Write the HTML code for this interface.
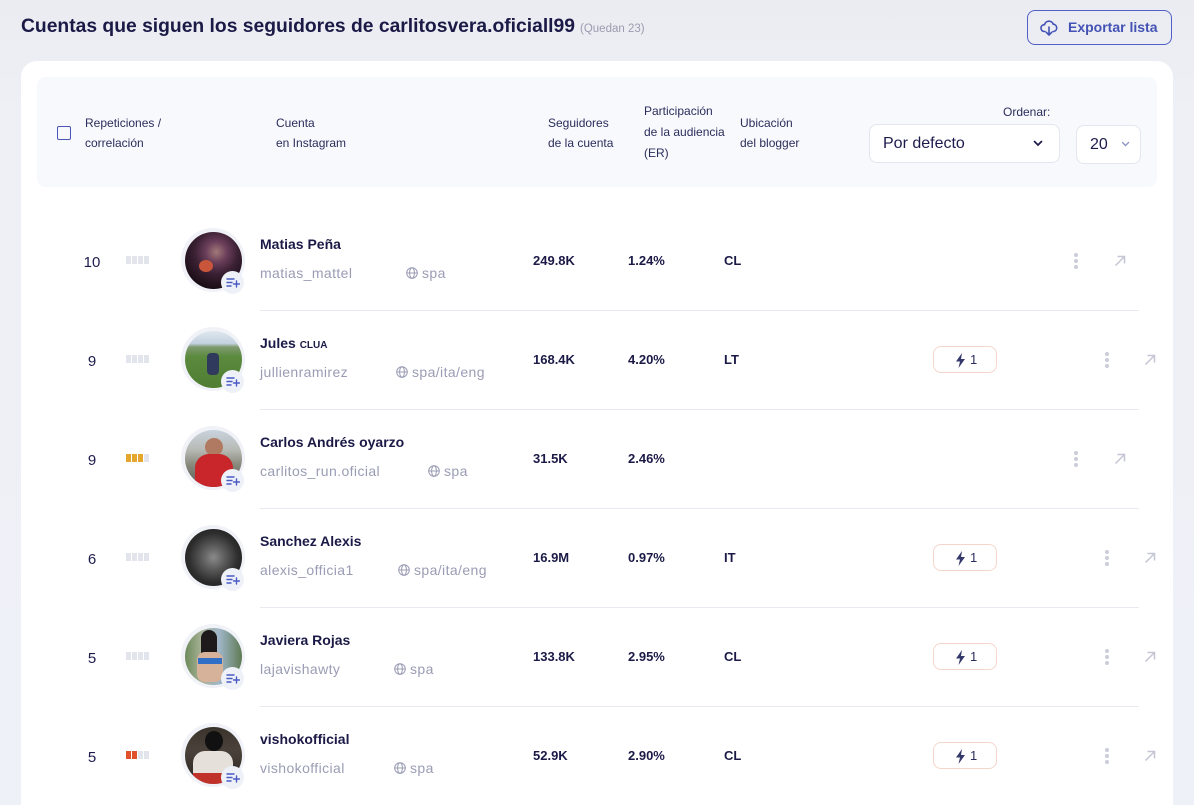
<!DOCTYPE html>
<html><head><meta charset="utf-8">
<style>
*{box-sizing:border-box;margin:0;padding:0}
html,body{width:1194px;height:805px;overflow:hidden}
body{background:linear-gradient(180deg,#eaecf1 0,#eef0f6 120px,#eef1f7 100%);font-family:"Liberation Sans",sans-serif;color:#1d1b4c;position:relative}
.abs{position:absolute}
.title{left:21px;top:15px;font-size:19.3px;font-weight:bold;color:#1b1a47;white-space:nowrap;line-height:24px}
.title small{font-size:11.5px;font-weight:normal;color:#9a9cb0;margin-left:5px}
.exp{left:1027px;top:10px;width:145px;height:35px;border:1.3px solid #5160c6;border-radius:8px;color:#4352b4;font-size:14px;font-weight:bold;line-height:32px;padding-left:40px}
.card{left:21px;top:61px;width:1152px;height:744px;background:#fff;border-radius:16px 16px 0 0}
.head{left:37px;top:77px;width:1120px;height:110px;background:#f7f9fc;border-radius:8px}
.hl{font-size:12px;color:#2b2d5c;line-height:20px;white-space:nowrap}
.cb{left:57px;top:126px;width:14px;height:14px;border:1.8px solid #4a55b8;border-radius:2px}
.sel{border:1px solid #e3e6ee;border-radius:8px;background:#fff}
.row{position:absolute;left:0;width:1194px;height:99px}
.num{position:absolute;left:76px;width:32px;text-align:center;top:43px;font-size:15px;line-height:18px;color:#1d1b4c}
.bars{position:absolute;left:126px;top:45px;height:8px;display:flex;gap:1px}
.bars i{display:block;width:5px;height:8px;background:#e3e5ec}
.halo{position:absolute;left:181px;top:17px;width:64px;height:64px;border-radius:50%;background:#f0f2f7}
.ph{position:absolute;left:184.5px;top:20.5px;width:57px;height:57px;border-radius:50%;overflow:hidden}
.add{position:absolute;left:221px;top:60px;width:23px;height:23px;border-radius:50%;background:#eef1f8}
.name{position:absolute;left:260px;top:24px;font-size:14px;font-weight:bold;line-height:18px;color:#1b1a47;white-space:nowrap}
.user{position:absolute;left:260px;top:53px;font-size:14px;line-height:18px;color:#9a9cb4;letter-spacing:.4px;white-space:nowrap}
.lang{position:absolute;top:53px;font-size:14px;line-height:18px;color:#9a9cb4;letter-spacing:.4px;white-space:nowrap;padding-left:16px}
.lang svg{position:absolute;left:0;top:3px}
.v{position:absolute;top:41px;font-size:13px;font-weight:bold;line-height:18px;color:#1b1a47}
.badge{position:absolute;left:933px;top:36px;width:64px;height:27px;border:1px solid #f5d6cc;border-radius:8px;font-size:13px;color:#2b2d5c;line-height:25px;padding-left:36px}
.badge svg{position:absolute;left:21px;top:6px}
.dots{position:absolute;top:42px;width:4px}
.dots i{display:block;width:4px;height:4px;border-radius:50%;background:#cbcdd9;margin-bottom:2px}
.arr{position:absolute;top:44px}
.sep{position:absolute;left:260px;width:879px;height:1px;background:#e8eaf2}
</style></head><body>
<div class="abs title">Cuentas que siguen los seguidores de carlitosvera.oficiall99<small>(Quedan 23)</small></div>
<div class="abs exp"><svg class="abs" style="left:12px;top:8px" width="18" height="17" viewBox="0 0 18 17"><path d="M5 12.5H4.2A3.4 3.4 0 0 1 4.5 5.7 4.6 4.6 0 0 1 13.3 5.2 3.7 3.7 0 0 1 13.8 12.5H13" fill="none" stroke="#4352b4" stroke-width="1.6" stroke-linecap="round"/><path d="M9 8v8M6.3 13.3 9 16l2.7-2.7" fill="none" stroke="#4352b4" stroke-width="1.6" stroke-linecap="round" stroke-linejoin="round"/></svg>Exportar lista</div>
<div class="abs card"></div>
<div class="abs head"></div>
<div class="abs cb"></div>
<div class="abs hl" style="left:85px;top:113px">Repeticiones /<br>correlación</div>
<div class="abs hl" style="left:276px;top:113px">Cuenta<br>en Instagram</div>
<div class="abs hl" style="left:548px;top:113px">Seguidores<br>de la cuenta</div>
<div class="abs hl" style="left:644px;top:101px;line-height:21px">Participación<br>de la audiencia<br>(ER)</div>
<div class="abs hl" style="left:740px;top:113px">Ubicación<br>del blogger</div>
<div class="abs hl" style="left:1003px;top:102px">Ordenar:</div>
<div class="abs sel" style="left:869px;top:124px;width:191px;height:39px"><span class="abs" style="left:13px;top:9px;font-size:16px;line-height:20px;color:#1d1b4c">Por defecto</span><svg class="abs" style="left:163px;top:15px" width="10" height="7" viewBox="0 0 10 7"><path d="M1.5 1.5 5 5l3.5-3.5" fill="none" stroke="#1d1b4c" stroke-width="1.7" stroke-linecap="round"/></svg></div>
<div class="abs sel" style="left:1076px;top:125px;width:65px;height:39px"><span class="abs" style="left:13px;top:9px;font-size:16px;line-height:20px;color:#1d1b4c">20</span><svg class="abs" style="left:44px;top:15px" width="9" height="6" viewBox="0 0 9 6"><path d="M1.5 1.5 4.5 4.5l3-3" fill="none" stroke="#8e97c6" stroke-width="1.4" stroke-linecap="round"/></svg></div>

<!-- separators -->
<div class="sep" style="top:310px"></div>
<div class="sep" style="top:409px"></div>
<div class="sep" style="top:508px"></div>
<div class="sep" style="top:607px"></div>
<div class="sep" style="top:706px"></div>

<!-- Row 1 -->
<div class="row" style="top:211px">
<div class="num">10</div>
<div class="bars"><i></i><i></i><i></i><i></i></div>
<div class="halo"></div>
<div class="ph" style="background:radial-gradient(circle at 55% 35%,#a27a78 0,#6a3e5a 22%,#3a2033 45%,#1a0e16 75%)"><div class="abs" style="left:14px;top:28px;width:14px;height:12px;border-radius:50%;background:#c9563a"></div></div>
<div class="add"><svg class="abs" style="left:5px;top:6px" width="14" height="11" viewBox="0 0 14 11"><path d="M1 2h7M1 5.5h5M1 9h4M10.5 4v6M7.5 7h6" stroke="#4a5bc4" stroke-width="1.4" stroke-linecap="round"/></svg></div>
<div class="name">Matias Peña</div>
<div class="user">matias_mattel</div>
<div class="lang" style="left:406px"><svg width="12" height="12" viewBox="0 0 12 12"><g fill="none" stroke="#9a9cb4" stroke-width="1"><circle cx="6" cy="6" r="5.3"/><ellipse cx="6" cy="6" rx="2.4" ry="5.3"/><path d="M.8 6h10.4"/></g></svg>spa</div>
<div class="v" style="left:533px">249.8K</div>
<div class="v" style="left:628px">1.24%</div>
<div class="v" style="left:724px">CL</div>
<div class="dots" style="left:1074px"><i></i><i></i><i></i></div>
<svg class="arr" style="left:1114px" width="12" height="12" viewBox="0 0 12 12"><path d="M1.5 10.5 10 2M3.5 1.5H10.5V8.5" fill="none" stroke="#c4c6d4" stroke-width="1.5"/></svg>
</div>

<!-- Row 2 -->
<div class="row" style="top:310px">
<div class="num">9</div>
<div class="bars"><i></i><i></i><i></i><i></i></div>
<div class="halo"></div>
<div class="ph" style="background:linear-gradient(180deg,#dfe7ef 0,#c3d2df 22%,#7f9a70 28%,#5b8a3e 45%,#4f7d32 100%)"><div class="abs" style="left:22px;top:22px;width:12px;height:22px;border-radius:4px;background:#2f3a5c"></div></div>
<div class="add"><svg class="abs" style="left:5px;top:6px" width="14" height="11" viewBox="0 0 14 11"><path d="M1 2h7M1 5.5h5M1 9h4M10.5 4v6M7.5 7h6" stroke="#4a5bc4" stroke-width="1.4" stroke-linecap="round"/></svg></div>
<div class="name">Jules <span style="font-size:10px">CLUA</span></div>
<div class="user">jullienramirez</div>
<div class="lang" style="left:396px"><svg width="12" height="12" viewBox="0 0 12 12"><g fill="none" stroke="#9a9cb4" stroke-width="1"><circle cx="6" cy="6" r="5.3"/><ellipse cx="6" cy="6" rx="2.4" ry="5.3"/><path d="M.8 6h10.4"/></g></svg>spa/ita/eng</div>
<div class="v" style="left:533px">168.4K</div>
<div class="v" style="left:628px">4.20%</div>
<div class="v" style="left:724px">LT</div>
<div class="badge"><svg width="11" height="15" viewBox="0 0 11 15"><path d="M7 0 1 8.5h4L3.5 15 10 6H6z" fill="#34386a"/></svg>1</div>
<div class="dots" style="left:1105px"><i></i><i></i><i></i></div>
<svg class="arr" style="left:1144px" width="12" height="12" viewBox="0 0 12 12"><path d="M1.5 10.5 10 2M3.5 1.5H10.5V8.5" fill="none" stroke="#c4c6d4" stroke-width="1.5"/></svg>
</div>

<!-- Row 3 -->
<div class="row" style="top:409px">
<div class="num">9</div>
<div class="bars"><i style="background:#e4a62c"></i><i style="background:#e4a62c"></i><i style="background:#e4a62c"></i><i></i></div>
<div class="halo"></div>
<div class="ph" style="background:linear-gradient(180deg,#c9d4de 0,#b7b9b4 35%,#8a8a7e 60%,#5a5f58 100%)"><div class="abs" style="left:20px;top:8px;width:18px;height:18px;border-radius:50%;background:#b07a62"></div><div class="abs" style="left:10px;top:24px;width:38px;height:34px;border-radius:14px 14px 4px 4px;background:#c8262a"></div></div>
<div class="add"><svg class="abs" style="left:5px;top:6px" width="14" height="11" viewBox="0 0 14 11"><path d="M1 2h7M1 5.5h5M1 9h4M10.5 4v6M7.5 7h6" stroke="#4a5bc4" stroke-width="1.4" stroke-linecap="round"/></svg></div>
<div class="name">Carlos Andrés oyarzo</div>
<div class="user">carlitos_run.oficial</div>
<div class="lang" style="left:428px"><svg width="12" height="12" viewBox="0 0 12 12"><g fill="none" stroke="#9a9cb4" stroke-width="1"><circle cx="6" cy="6" r="5.3"/><ellipse cx="6" cy="6" rx="2.4" ry="5.3"/><path d="M.8 6h10.4"/></g></svg>spa</div>
<div class="v" style="left:533px">31.5K</div>
<div class="v" style="left:628px">2.46%</div>
<div class="dots" style="left:1074px"><i></i><i></i><i></i></div>
<svg class="arr" style="left:1114px" width="12" height="12" viewBox="0 0 12 12"><path d="M1.5 10.5 10 2M3.5 1.5H10.5V8.5" fill="none" stroke="#c4c6d4" stroke-width="1.5"/></svg>
</div>

<!-- Row 4 -->
<div class="row" style="top:508px">
<div class="num">6</div>
<div class="bars"><i></i><i></i><i></i><i></i></div>
<div class="halo"></div>
<div class="ph" style="background:radial-gradient(circle at 50% 50%,#8a8a8a 0,#5a5a5a 30%,#2e2e2e 60%,#151515 100%)"></div>
<div class="add"><svg class="abs" style="left:5px;top:6px" width="14" height="11" viewBox="0 0 14 11"><path d="M1 2h7M1 5.5h5M1 9h4M10.5 4v6M7.5 7h6" stroke="#4a5bc4" stroke-width="1.4" stroke-linecap="round"/></svg></div>
<div class="name">Sanchez Alexis</div>
<div class="user">alexis_officia1</div>
<div class="lang" style="left:398px"><svg width="12" height="12" viewBox="0 0 12 12"><g fill="none" stroke="#9a9cb4" stroke-width="1"><circle cx="6" cy="6" r="5.3"/><ellipse cx="6" cy="6" rx="2.4" ry="5.3"/><path d="M.8 6h10.4"/></g></svg>spa/ita/eng</div>
<div class="v" style="left:533px">16.9M</div>
<div class="v" style="left:628px">0.97%</div>
<div class="v" style="left:724px">IT</div>
<div class="badge"><svg width="11" height="15" viewBox="0 0 11 15"><path d="M7 0 1 8.5h4L3.5 15 10 6H6z" fill="#34386a"/></svg>1</div>
<div class="dots" style="left:1105px"><i></i><i></i><i></i></div>
<svg class="arr" style="left:1144px" width="12" height="12" viewBox="0 0 12 12"><path d="M1.5 10.5 10 2M3.5 1.5H10.5V8.5" fill="none" stroke="#c4c6d4" stroke-width="1.5"/></svg>
</div>

<!-- Row 5 -->
<div class="row" style="top:607px">
<div class="num">5</div>
<div class="bars"><i></i><i></i><i></i><i></i></div>
<div class="halo"></div>
<div class="ph" style="background:linear-gradient(90deg,#6d8a5a 0,#a9b39a 30%,#9fb6c8 60%,#5f7a54 100%)"><div class="abs" style="left:16px;top:2px;width:16px;height:30px;border-radius:8px;background:#1e1a1c"></div><div class="abs" style="left:12px;top:24px;width:26px;height:30px;border-radius:8px;background:#d7b29a"></div><div class="abs" style="left:13px;top:30px;width:24px;height:6px;background:#2f6fc8"></div></div>
<div class="add"><svg class="abs" style="left:5px;top:6px" width="14" height="11" viewBox="0 0 14 11"><path d="M1 2h7M1 5.5h5M1 9h4M10.5 4v6M7.5 7h6" stroke="#4a5bc4" stroke-width="1.4" stroke-linecap="round"/></svg></div>
<div class="name">Javiera Rojas</div>
<div class="user">lajavishawty</div>
<div class="lang" style="left:394px"><svg width="12" height="12" viewBox="0 0 12 12"><g fill="none" stroke="#9a9cb4" stroke-width="1"><circle cx="6" cy="6" r="5.3"/><ellipse cx="6" cy="6" rx="2.4" ry="5.3"/><path d="M.8 6h10.4"/></g></svg>spa</div>
<div class="v" style="left:533px">133.8K</div>
<div class="v" style="left:628px">2.95%</div>
<div class="v" style="left:724px">CL</div>
<div class="badge"><svg width="11" height="15" viewBox="0 0 11 15"><path d="M7 0 1 8.5h4L3.5 15 10 6H6z" fill="#34386a"/></svg>1</div>
<div class="dots" style="left:1105px"><i></i><i></i><i></i></div>
<svg class="arr" style="left:1144px" width="12" height="12" viewBox="0 0 12 12"><path d="M1.5 10.5 10 2M3.5 1.5H10.5V8.5" fill="none" stroke="#c4c6d4" stroke-width="1.5"/></svg>
</div>

<!-- Row 6 -->
<div class="row" style="top:706px">
<div class="num">5</div>
<div class="bars"><i style="background:#e2522a"></i><i style="background:#e2522a"></i><i></i><i></i></div>
<div class="halo"></div>
<div class="ph" style="background:linear-gradient(180deg,#3a332c 0,#4a423a 40%,#2a2420 100%)"><div class="abs" style="left:20px;top:4px;width:18px;height:20px;border-radius:50%;background:#111"></div><div class="abs" style="left:8px;top:24px;width:40px;height:34px;border-radius:12px 12px 0 0;background:#e6e0da"></div><div class="abs" style="left:8px;top:46px;width:40px;height:12px;background:#c0312a"></div></div>
<div class="add"><svg class="abs" style="left:5px;top:6px" width="14" height="11" viewBox="0 0 14 11"><path d="M1 2h7M1 5.5h5M1 9h4M10.5 4v6M7.5 7h6" stroke="#4a5bc4" stroke-width="1.4" stroke-linecap="round"/></svg></div>
<div class="name">vishokofficial</div>
<div class="user">vishokofficial</div>
<div class="lang" style="left:394px"><svg width="12" height="12" viewBox="0 0 12 12"><g fill="none" stroke="#9a9cb4" stroke-width="1"><circle cx="6" cy="6" r="5.3"/><ellipse cx="6" cy="6" rx="2.4" ry="5.3"/><path d="M.8 6h10.4"/></g></svg>spa</div>
<div class="v" style="left:533px">52.9K</div>
<div class="v" style="left:628px">2.90%</div>
<div class="v" style="left:724px">CL</div>
<div class="badge"><svg width="11" height="15" viewBox="0 0 11 15"><path d="M7 0 1 8.5h4L3.5 15 10 6H6z" fill="#34386a"/></svg>1</div>
<div class="dots" style="left:1105px"><i></i><i></i><i></i></div>
<svg class="arr" style="left:1144px" width="12" height="12" viewBox="0 0 12 12"><path d="M1.5 10.5 10 2M3.5 1.5H10.5V8.5" fill="none" stroke="#c4c6d4" stroke-width="1.5"/></svg>
</div>
</body></html>
